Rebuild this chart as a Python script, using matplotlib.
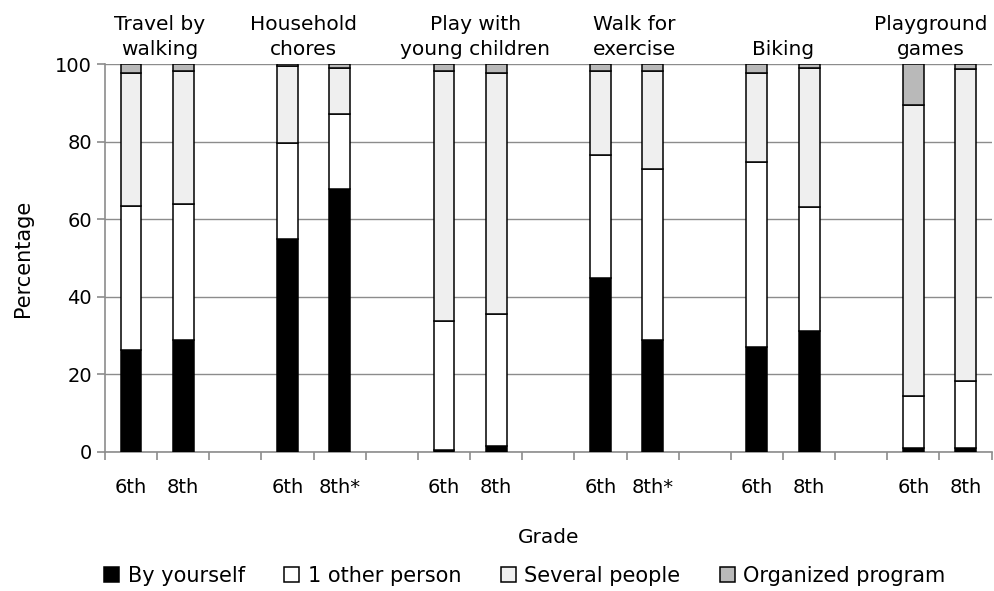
import numpy as np
import matplotlib.pyplot as plt

activities = ['Travel by\nwalking', 'Household\nchores', 'Play with\nyoung children',
              'Walk for\nexercise', 'Biking', 'Playground\ngames']
grade_labels = ['6th', '8th', '6th', '8th*', '6th', '8th', '6th', '8th*', '6th', '8th', '6th', '8th']

# one value per bar (6th, 8th for each activity)
by_yourself = [26.3, 28.8, 54.8, 67.7, 0.6, 1.5, 44.9, 28.8, 27.1, 31.2, 1.0, 1.1]
one_other = [37.2, 35.1, 24.9, 19.3, 33.2, 34.1, 31.6, 44.1, 47.7, 31.9, 13.4, 17.2]
several = [34.3, 34.4, 19.8, 12.0, 64.5, 62.2, 21.8, 25.4, 23.0, 35.9, 75.0, 80.4]
organized = [2.2, 1.7, 0.5, 1.0, 1.7, 2.2, 1.7, 1.7, 2.2, 1.0, 10.6, 1.3]

series = [by_yourself, one_other, several, organized]
names = ['By yourself', '1 other person', 'Several people', 'Organized program']
colors = ['black', 'white', '#efefef', '#b9b9b9']

x = np.array([3 * g + i for g in range(6) for i in range(2)])
# small nudges so the group titles sit like in the original
title_shift = [0.05, -0.2, 0.1, 0.15, 0.0, -0.17]

fig = plt.figure(figsize=(9.94, 5.91), dpi=100)
ax = fig.add_axes([0.1056, 0.2352, 0.892, 0.6565])

bottom = np.zeros(len(x))
for vals, name, c in zip(series, names, colors):
    ax.bar(x, vals, width=0.4, bottom=bottom, color=c, edgecolor='black',
           linewidth=1.1, label=name, zorder=3)
    bottom += np.array(vals)

ax.set_xlim(-0.5, 16.5)
ax.set_ylim(0, 100)
ax.set_yticks([0, 20, 40, 60, 80, 100])
ax.yaxis.grid(True, color='#8c8c8c', linewidth=1, zorder=0)
ax.tick_params(axis='y', labelsize=14, length=6, color='#8c8c8c', width=1.2, pad=3.5)

ax.set_xticks(x)
ax.set_xticklabels(grade_labels, fontsize=14)
ax.set_xticks(np.arange(-0.5, 17, 1.0), minor=True)
ax.tick_params(axis='x', which='major', length=0, pad=19)
ax.tick_params(axis='x', which='minor', length=6, color='#8c8c8c', width=1.2)

for s in ['top', 'right']:
    ax.spines[s].set_visible(False)
for s in ['left', 'bottom']:
    ax.spines[s].set_color('#8c8c8c')
    ax.spines[s].set_linewidth(1.2)

for g, name in enumerate(activities):
    ax.text(3 * g + 0.5 + title_shift[g], 101.2, name, ha='center', va='bottom',
            fontsize=14.5, linespacing=1.4)

ax.set_ylabel('Percentage', fontsize=15, labelpad=16)
ax.set_xlabel('Grade', fontsize=14.5, labelpad=22)

fig.legend(loc='center', bbox_to_anchor=(0.528, 0.026), ncol=4, frameon=False,
           fontsize=15, handlelength=0.72, handleheight=0.72, handletextpad=0.4,
           columnspacing=1.9, borderpad=0)

fig.savefig('out.png', dpi=100)
